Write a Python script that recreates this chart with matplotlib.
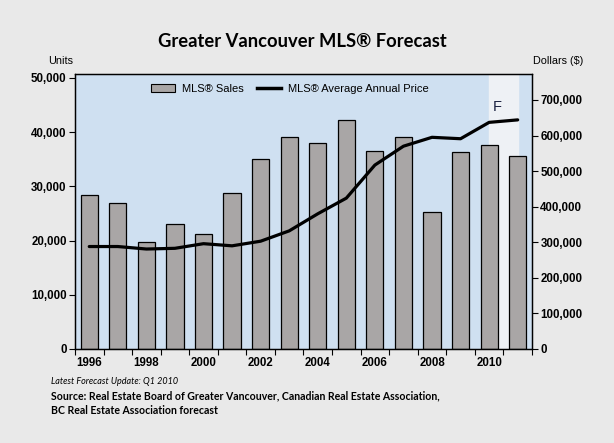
import matplotlib
matplotlib.use("Agg")
import matplotlib.pyplot as plt
from matplotlib.patches import Patch
from matplotlib.lines import Line2D

# data
years = list(range(1996, 2012))
sales = [28500, 27000, 19650, 23000, 21300, 28700, 35000, 39050,
         37950, 42200, 36450, 39050, 25200, 36300, 37600, 35550]
avg_price = [288000, 288000, 281000, 283000, 296000, 290000, 303000, 332000,
             380000, 424000, 517000, 570000, 595000, 591000, 637000, 644000]
year_labels = [str(y) if y % 2 == 0 else "" for y in years]

axis_font = "Liberation Sans"
text_font = "Lato"

fig = plt.figure(figsize=(6.14, 4.43), dpi=100)
fig.patch.set_facecolor("#e9e9e9")

ax = fig.add_axes([0.1221, 0.2122, 0.7443, 0.6208])
ax.set_facecolor("#cfe0f1")
x = list(range(len(years)))

# forecast band
ax.axvspan(14, 15, color="#eef1f5", zorder=0)

ax.bar(x, sales, width=0.6, color="#a9a6a6", edgecolor="black", linewidth=0.9, zorder=2)
ax.set_xlim(-0.5, len(years) - 0.5)
ax.set_ylim(0, 50740)
ax.set_yticks(range(0, 50001, 10000))
ax.set_yticklabels([f"{v:,}" for v in range(0, 50001, 10000)],
                   fontfamily=axis_font, fontweight="bold", fontsize=8.3)
ax.set_xticks(x)
ax.set_xticklabels(year_labels, fontfamily=axis_font, fontweight="bold", fontsize=8.3)
ax.set_xticks([i - 0.5 for i in range(len(years) + 1)], minor=True)
ax.tick_params(axis="x", which="major", length=0, pad=6)
ax.tick_params(axis="x", which="minor", length=4, width=0.8)
ax.tick_params(axis="y", length=4, width=0.8, pad=2)

ax2 = ax.twinx()
ax2.plot(x, avg_price, color="black", linewidth=2.3, solid_joinstyle="round",
         solid_capstyle="round", zorder=3)
ax2.set_ylim(0, 773000)
ax2.set_yticks(range(0, 700001, 100000))
ax2.set_yticklabels([f"{v:,}" for v in range(0, 700001, 100000)],
                    fontfamily=axis_font, fontweight="bold", fontsize=8.3)
ax2.tick_params(axis="y", length=4, width=0.8, pad=2)

for a in (ax, ax2):
    for s in a.spines.values():
        s.set_color("black")
        s.set_linewidth(0.9)

ax2.text(14.3, 680000, "F", fontfamily=axis_font, fontsize=10.5, color="#1a2040",
         ha="center", va="center")

handles = [Patch(facecolor="#a9a6a6", edgecolor="black", linewidth=0.8),
           Line2D([0], [0], color="black", linewidth=2.5)]
ax2.legend(handles, ["MLS\u00ae Sales", "MLS\u00ae Average Annual Price"],
           loc="upper center", bbox_to_anchor=(0.47, 1.0), ncol=2, frameon=False,
           prop={"family": axis_font, "size": 8}, handlelength=2.2,
           columnspacing=1.2, handletextpad=0.6)

fig.text(0.493, 0.907, "Greater Vancouver MLS\u00ae Forecast", fontfamily=text_font,
         fontweight="bold", fontsize=13.2, ha="center", va="center")
fig.text(61 / 614, 1 - 61 / 443, "Units", fontfamily=axis_font, fontsize=7.8,
         ha="center", va="center")
fig.text(558 / 614, 1 - 61 / 443, "Dollars ($)", fontfamily=axis_font, fontsize=7.8,
         ha="center", va="center")

fig.text(51 / 614, 1 - 382 / 443, "Latest Forecast Update: Q1 2010", fontfamily=text_font,
         fontstyle="italic", fontsize=6.5, ha="left", va="center")
fig.text(51 / 614, 1 - 396 / 443,
         "Source: Real Estate Board of Greater Vancouver, Canadian Real Estate Association,",
         fontfamily=text_font, fontweight="bold", fontsize=7.6, ha="left", va="center")
fig.text(51 / 614, 1 - 410 / 443, "BC Real Estate Association forecast",
         fontfamily=text_font, fontweight="bold", fontsize=7.6, ha="left", va="center")

fig.savefig("out.png", dpi=100, facecolor=fig.get_facecolor())
